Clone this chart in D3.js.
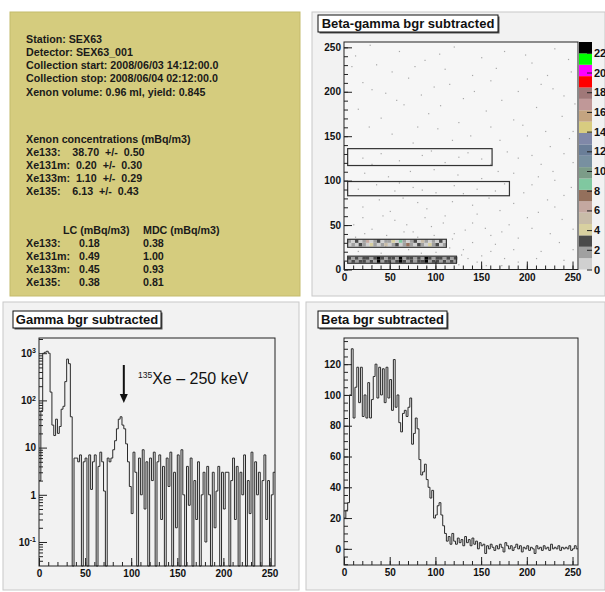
<!DOCTYPE html>
<html>
<head>
<meta charset="utf-8">
<script src="https://cdn.jsdelivr.net/npm/d3@7"></script>
<style>
  body { margin: 0; background: #fff; }
  svg { display: block; font-family: "Liberation Sans", Arial, sans-serif; }
  .tick text { font-weight: bold; font-size: 10px; fill: #111; }
  .info text { white-space: pre; }
</style>
</head>
<body>
<svg id="chart" width="605" height="592"></svg>
<script>
// ---- info panel text
const infoHead = [
  "Station: SEX63",
  "Detector: SEX63_001",
  "Collection start: 2008/06/03 14:12:00.0",
  "Collection stop: 2008/06/04 02:12:00.0",
  "Xenon volume: 0.96 ml, yield: 0.845"
];
const isotopes = ["Xe133:", "Xe131m:", "Xe133m:", "Xe135:"];
const concValue = ["38.70", "0.20", "1.10", "6.13"];
const concError = ["0.50", "0.30", "0.29", "0.43"];
const lcValue = ["0.18", "0.49", "0.45", "0.38"];
const mdcValue = ["0.38", "1.00", "0.93", "0.81"];

// ---- beta-gamma 2D: ROI boxes [x0, x1, y0, y1]
const roiBoxes = [[4, 162, 117, 136], [4, 181, 83, 99], [4, 112, 25, 34], [4, 123, 7, 15]];
// dense cells inside the low ROIs (4 channels wide)
const roi3RowA = [1,2,1,3,2,1,4,2,1,2,5,1,2,3,1,2,8,2,1,3,2,1,4,2,3,1,2];
const roi3RowB = [2,1,3,1,2,6,1,2,3,1,2,2,4,1,9,2,1,2,3,1,5,2,1,2,1,3,1];
const roi4RowA = [2,3,2,3,3,2,3,2,24,2,3,3,2,3,24,3,2,3,2,3,3,24,2,3,3,2,3,2,3,2];
const roi4RowB = [3,2,3,2,3,3,2,3,24,3,2,3,3,2,24,2,3,3,2,3,2,24,3,2,3,3,2,3,2,3];
// sparse single counts [beta, gamma]
const sparseDots = [
  [12,240],[35,230],[60,245],[88,235],[120,250],[150,238],[175,245],[205,232],[230,248],[248,222],
  [20,210],[45,198],[70,215],[98,205],[130,192],[160,212],[190,200],[215,208],[240,195],[110,225],
  [15,180],[40,170],[65,185],[92,175],[125,165],[155,178],[185,168],[210,182],[238,172],[80,160],
  [170,145],[200,150],[225,138],[250,155],[190,125],[215,118],[240,130],[185,108],[205,95],[230,100],
  [20,125],[40,130],[60,122],[85,128],[110,120],[135,131],[150,124],[30,118],[95,133],[125,126],
  [15,90],[35,95],[55,88],[75,92],[100,86],[120,94],[145,90],[165,88],[175,96],[60,97],[130,85],[85,89],
  [20,70],[50,65],[80,75],[110,60],[140,72],[170,66],[200,58],[230,70],[250,45],[190,35],[215,20],[240,10],
  [10,50],[30,45],[55,55],[75,42],[95,48],[120,40],[140,52],[160,38],[180,50],[130,22],[150,15],[165,28],
  [15,20],[40,18],[70,22],[100,19],[125,5],[60,3],[90,2],[30,4],[145,8],[175,12],[200,5],[225,40],
  [28,252],[52,222],[77,228],[104,242],[140,218],[166,226],[198,241],[222,218],[245,236],[8,228],
  [30,202],[57,190],[84,196],[115,208],[142,200],[172,190],[200,214],[228,203],[252,186],[105,184],
  [27,160],[52,152],[75,142],[102,158],[138,150],[160,160],[195,162],[220,155],[246,147],[118,145],
  [160,118],[178,132],[205,128],[228,110],[250,120],[196,86],[222,78],[248,92],[212,104],[240,83],
  [22,108],[48,104],[72,110],[98,112],[124,106],[150,102],[168,110],[38,78],[64,80],[90,68],
  [118,76],[145,62],[158,80],[185,74],[212,64],[238,56],[20,58],[42,60],[68,50],[88,58],
  [108,52],[132,44],[154,46],[172,42],[205,46],[235,30],[12,36],[46,38],[80,36],[118,34],
  [140,30],[160,20],[185,22],[210,12],[250,22],[20,12],[50,10],[78,14],[108,8],[135,12],
  [155,4],[190,8],[22,40],[65,42],[98,38],[128,16],[172,4],[115,24],[45,26],[84,18]
];
const paletteColors = ["#d0d0d0","#a0a0a0","#4a4a4a","#d8d0a0","#c8bca8","#c4a8a0","#94705c","#80c8a0",
  "#7c9c88","#7890a0","#6a7e98","#8088a8","#d8cc80","#c4a480","#c09898","#a07878","#ff0000","#ff00ff","#00ff00","#000000"];
const zMax = 23.1;
const zTicks = [0,2,4,6,8,10,12,14,16,18,20,22];

// ---- gamma spectrum, 2-channel bins (0 = empty)
const gammaCounts = [
  2,60,1000,1050,1100,1000,150,30,18,40,20,28,65,75,250,750,600,45,0,6,
  6,5,7,0,5,6,0,7,1.3,5,7,0,4,8,5,1.2,0,6,5,
  6,9,14,25,40,45,30,25,12,5,1.5,
  0.4,8,3,0,6,1,9,0.5,5,0,6,2,8,0,5,7,0.3,4,0,6,1.5,8,0,3,0.2,7,0,9,1,0,
  4,0.6,6,0,2,0.3,5,0,1,3,0.1,4,1,0,3,0.2,1.2,4,0,3,0.5,3,3,0,2,6,0.3,4,0,3,
  1,7,0,2,0.4,8,0,5,1,3,0,2,7,0.3,2,0,1,3
];
// ---- beta spectrum, 2-channel bins
const betaCounts = [
  20,25,30,100,130,85,105,118,95,118,86,100,85,108,85,97,112,120,98,118,
  100,117,95,118,98,110,90,123,92,100,82,76,88,90,86,92,98,68,75,85,
  78,58,48,50,55,45,40,33,38,20,22,28,30,22,15,10,5,8,3,10,
  5,3,7,4,6,2,8,4,6,2,7,3,5,0,4,2,3,-3,2,0,
  3,1,-1,2,0,3,1,-2,4,2,0,2,-1,1,3,0,2,-2,1,0,
  2,-1,1,0,-3,2,0,1,-1,2,0,1,-1,3,0,1,0,2,-1,1,
  0,1,0,2,-1,0,2,0
];
const binWidth = 2;

const svg = d3.select("#chart");

// panels
svg.append("rect").attr("x", 10).attr("y", 12).attr("width", 290).attr("height", 284)
  .attr("fill", "#d5cc7e").attr("stroke", "#c4bb6c");
[[312, 12, 293, 284], [3, 302, 296, 288], [306, 302, 299, 288]].forEach(p => {
  svg.append("rect").attr("x", p[0]).attr("y", p[1]).attr("width", p[2]).attr("height", p[3])
    .attr("fill", "#f2f2f2").attr("stroke", "#c8c8c8");
});

// info text
const info = svg.append("g").attr("class", "info").attr("font-weight", "bold")
  .attr("font-size", "10.7px").attr("fill", "#1a1a1a");
infoHead.forEach((t, i) => info.append("text").attr("x", 26).attr("y", 42.5 + i * 13.3).text(t));
info.append("text").attr("x", 26).attr("y", 142.5).text("Xenon concentrations (mBq/m3)");
isotopes.forEach((iso, i) => {
  const gap = iso.length === 6 ? "    " : "  ";
  info.append("text").attr("x", 26).attr("y", 155.5 + i * 13.3)
    .text(iso + gap + concValue[i] + "  +/-  " + concError[i]);
});
info.append("text").attr("x", 63).attr("y", 233.5).text("LC (mBq/m3)");
info.append("text").attr("x", 143).attr("y", 233.5).text("MDC (mBq/m3)");
isotopes.forEach((iso, i) => {
  const yy = 246.5 + i * 13.3;
  info.append("text").attr("x", 26).attr("y", yy).text(iso);
  info.append("text").attr("x", 79).attr("y", yy).text(lcValue[i]);
  info.append("text").attr("x", 143).attr("y", yy).text(mdcValue[i]);
});

function titleBox(x, y, w, label) {
  svg.append("rect").attr("x", x + 1.5).attr("y", y + 1.5).attr("width", w).attr("height", 17).attr("fill", "#555");
  svg.append("rect").attr("x", x).attr("y", y).attr("width", w).attr("height", 17)
    .attr("fill", "#fff").attr("stroke", "#111");
  svg.append("text").attr("x", x + w / 2).attr("y", y + 13).attr("text-anchor", "middle")
    .attr("font-weight", "bold").attr("font-size", "13px").attr("fill", "#111").text(label);
}

function axesLinear(g, x, y, yMinor, yMajor) {
  const gx = g.append("g").attr("transform", `translate(0,${y.range()[0]})`);
  gx.append("g").call(d3.axisBottom(x).tickValues(d3.range(0, 256, 10)).tickSize(-4).tickFormat(""));
  gx.append("g").call(d3.axisBottom(x).tickValues(d3.range(0, 251, 50)).tickSize(-8).tickPadding(4).tickFormat(d3.format("d")));
  g.append("g").attr("transform", `translate(${x.range()[0]},0)`)
    .call(d3.axisLeft(y).tickValues(yMinor).tickSize(-4).tickFormat(""));
  g.append("g").attr("transform", `translate(${x.range()[0]},0)`)
    .call(d3.axisLeft(y).tickValues(yMajor).tickSize(-8).tickPadding(3).tickFormat(d3.format("d")));
  g.selectAll(".domain").remove();
  g.selectAll(".tick line").attr("stroke", "#222");
}

function frame(x, y) {
  svg.append("rect").attr("x", x.range()[0]).attr("y", y.range()[1])
    .attr("width", x.range()[1] - x.range()[0]).attr("height", y.range()[0] - y.range()[1])
    .attr("fill", "none").attr("stroke", "#222");
}

function stepPath(counts, x, yPix) {
  const p = d3.path();
  counts.forEach((v, i) => {
    const x0 = x(i * binWidth), x1 = x((i + 1) * binWidth), yy = yPix(v);
    if (i === 0) p.moveTo(x0, yy); else p.lineTo(x0, yy);
    p.lineTo(x1, yy);
  });
  return p.toString();
}

// ---- beta-gamma 2D
{
  const x = d3.scaleLinear([0, 256], [344, 578]);
  const y = d3.scaleLinear([0, 256], [269.5, 42]);
  const z = d3.scaleQuantize([0, zMax], paletteColors);
  titleBox(318, 15, 180, "Beta-gamma bgr subtracted");
  svg.append("rect").attr("x", 344).attr("y", 42).attr("width", 234).attr("height", 227.5).attr("fill", "#f6f6f6");
  const g = svg.append("g");
  g.selectAll("rect.dot").data(sparseDots).join("rect").attr("class", "dot")
    .attr("x", d => x(d[0])).attr("y", d => y(d[1] + 1)).attr("width", 1.2).attr("height", 1.2)
    .attr("fill", "#a8a8a8");
  const cellRows = [[roi3RowA, 26, 30], [roi3RowB, 30, 34], [roi4RowA, 7.5, 11], [roi4RowB, 11, 14.5]];
  cellRows.forEach(([row, y0, y1]) => {
    g.append("g").selectAll("rect").data(row).join("rect")
      .attr("x", (d, i) => x(4 + i * 4)).attr("width", (d, i) => x(8 + i * 4) - x(4 + i * 4))
      .attr("y", y(y1)).attr("height", y(y0) - y(y1))
      .attr("fill", d => z(Math.min(d, zMax - 0.01)));
  });
  g.selectAll("rect.roi").data(roiBoxes).join("rect").attr("class", "roi")
    .attr("x", d => x(d[0])).attr("y", d => y(d[3])).attr("width", d => x(d[1]) - x(d[0]))
    .attr("height", d => y(d[2]) - y(d[3])).attr("fill", "none").attr("stroke", "#333").attr("stroke-width", 1.2);
  axesLinear(svg.append("g"), x, y, d3.range(0, 256, 10), [0, 50, 100, 150, 200, 250]);
  frame(x, y);
  // colour palette
  const zs = d3.scaleLinear([0, zMax], [269.5, 42]);
  const step = zMax / paletteColors.length;
  svg.append("g").selectAll("rect").data(paletteColors).join("rect")
    .attr("x", 579).attr("width", 13)
    .attr("y", (d, i) => zs((i + 1) * step)).attr("height", (d, i) => zs(i * step) - zs((i + 1) * step))
    .attr("fill", d => d);
  const gz = svg.append("g").attr("transform", "translate(592,0)")
    .call(d3.axisRight(zs).tickValues(zTicks).tickSize(-5).tickPadding(2).tickFormat(d3.format("d")));
  gz.select(".domain").remove();
  gz.selectAll(".tick line").attr("stroke", "#222");
  gz.selectAll(".tick text").style("font-size", "11px");
}

// ---- gamma
{
  const x = d3.scaleLinear([0, 256], [39, 275]);
  const y = d3.scaleLog([0.031, 2100], [566, 338]);
  const yPix = v => v <= 0.031 ? 566 : Math.max(338, y(v));
  titleBox(13, 311, 148, "Gamma bgr subtracted");
  const g = svg.append("g");
  const minor = [];
  [0.01, 0.1, 1, 10, 100, 1000].forEach(dec => {
    for (let k = 2; k <= 9; k++) { const v = dec * k; if (v > 0.031 && v < 2100) minor.push(v); }
  });
  const gx = g.append("g").attr("transform", "translate(0,566)");
  gx.append("g").call(d3.axisBottom(x).tickValues(d3.range(0, 256, 10)).tickSize(-4).tickFormat(""));
  gx.append("g").call(d3.axisBottom(x).tickValues(d3.range(0, 251, 50)).tickSize(-8).tickPadding(4).tickFormat(d3.format("d")));
  g.append("g").attr("transform", "translate(39,0)")
    .call(d3.axisLeft(y).tickValues(minor).tickSize(-4).tickFormat(""));
  const gy = g.append("g").attr("transform", "translate(39,0)")
    .call(d3.axisLeft(y).tickValues([0.1, 1, 10, 100, 1000]).tickSize(-8).tickPadding(3).tickFormat(""));
  const expo = { 0.1: "-1", 100: "2", 1000: "3" };
  gy.selectAll(".tick text").each(function (d) {
    const t = d3.select(this);
    if (d === 1 || d === 10) { t.text(d); return; }
    t.append("tspan").text("10");
    t.append("tspan").attr("dy", "-0.5em").attr("font-size", "7px").text(expo[d]);
  });
  g.selectAll(".domain").remove();
  g.selectAll(".tick line").attr("stroke", "#222");
  svg.append("path").attr("d", stepPath(gammaCounts, x, yPix)).attr("fill", "none")
    .attr("stroke", "#2a2a2a").attr("stroke-width", 1);
  frame(x, y);
  // annotation for the 135Xe peak
  const ax = x(92);
  svg.append("line").attr("x1", ax).attr("x2", ax).attr("y1", 365).attr("y2", 396)
    .attr("stroke", "#111").attr("stroke-width", 2);
  svg.append("path").attr("d", `M${ax - 4},394 L${ax + 4},394 L${ax},403 Z`).attr("fill", "#111");
  const lab = svg.append("text").attr("x", 138).attr("y", 384).attr("font-size", "16px").attr("fill", "#111");
  lab.append("tspan").attr("font-size", "8.5px").attr("dy", "-6").text("135");
  lab.append("tspan").attr("dy", "6").text("Xe \u2013 250 keV");
}

// ---- beta
{
  const x = d3.scaleLinear([0, 256], [344, 578]);
  const y = d3.scaleLinear([-10.5, 137], [565, 338]);
  titleBox(318, 311, 129, "Beta bgr subtracted");
  axesLinear(svg.append("g"), x, y, d3.range(-10, 136, 5), [0, 20, 40, 60, 80, 100, 120]);
  svg.append("path").attr("d", stepPath(betaCounts, x, y)).attr("fill", "none")
    .attr("stroke", "#2a2a2a").attr("stroke-width", 1);
  frame(x, y);
}
</script>
</body>
</html>
